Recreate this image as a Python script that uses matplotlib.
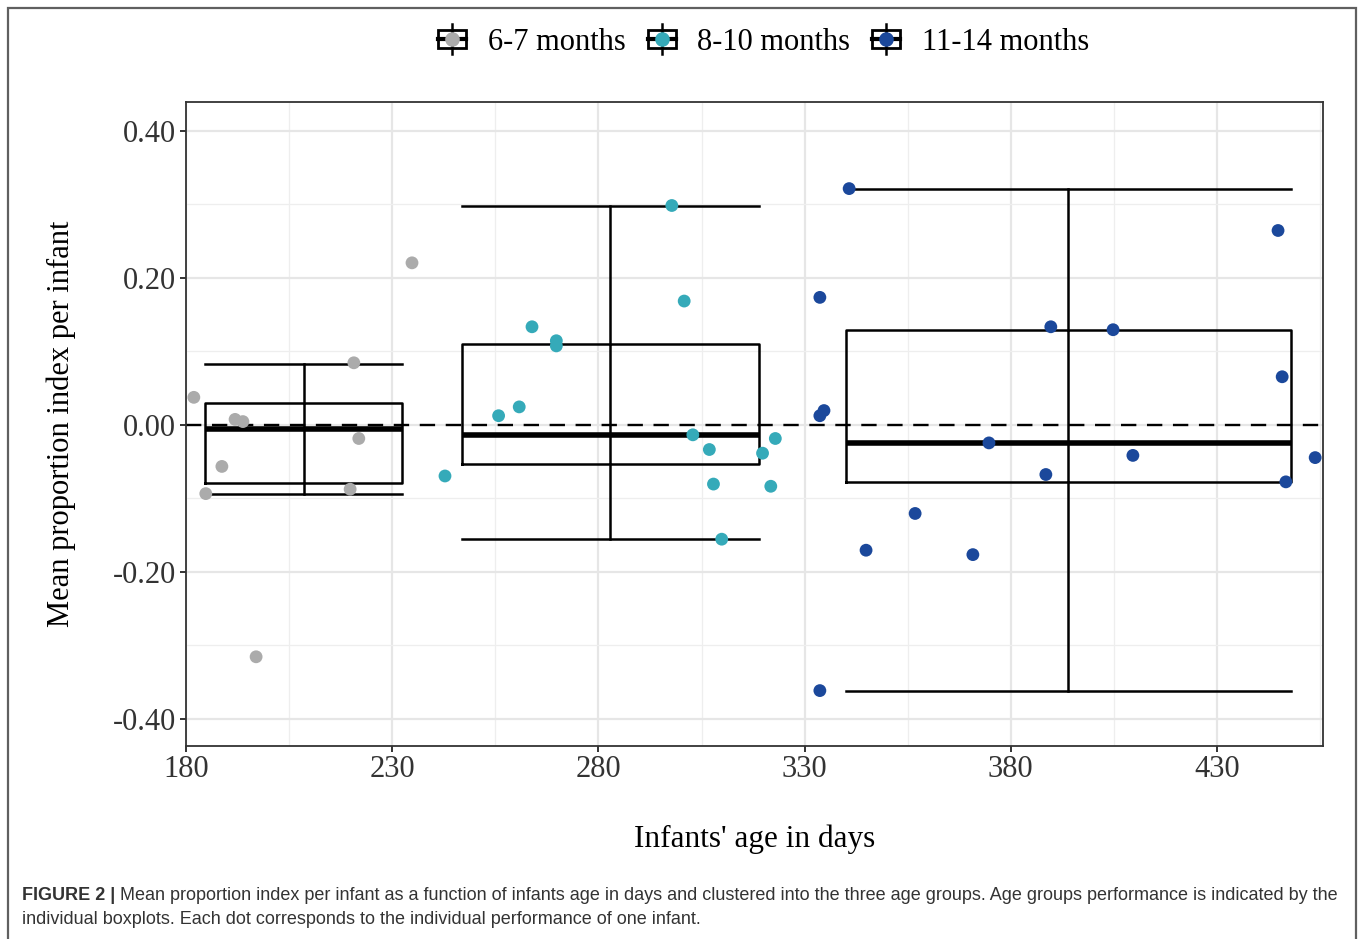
import matplotlib
matplotlib.use("Agg")
import matplotlib.pyplot as plt
import matplotlib.patches as patches
from matplotlib.lines import Line2D
from matplotlib.legend_handler import HandlerBase

# data
grp_names = ["6-7 months", "8-10 months", "11-14 months"]
grp_colors = ["#ABABAB", "#35AAB9", "#1B489B"]

days_67 = [181.9, 184.8, 188.7, 191.9, 193.8, 197.0, 219.8, 220.7, 221.9, 234.8]
vals_67 = [0.037, -0.094, -0.057, 0.007, 0.004, -0.316, -0.088, 0.084, -0.019, 0.220]

days_810 = [242.8, 255.8, 260.8, 263.9, 269.8, 269.8, 300.8, 297.8, 302.9, 306.9,
            307.9, 309.9, 319.8, 322.9, 321.8]
vals_810 = [-0.070, 0.012, 0.024, 0.133, 0.114, 0.107, 0.168, 0.298, -0.014, -0.034,
            -0.081, -0.156, -0.039, -0.019, -0.084]

days_1114 = [340.8, 333.7, 444.8, 389.7, 404.8, 445.8, 334.7, 333.7, 374.7, 409.6,
             453.8, 388.5, 446.7, 356.8, 344.9, 370.8, 333.7]
vals_1114 = [0.321, 0.173, 0.264, 0.133, 0.129, 0.065, 0.019, 0.012, -0.025, -0.042,
             -0.045, -0.068, -0.078, -0.121, -0.171, -0.177, -0.362]

# box summary per group
box_center = [208.5, 282.9, 393.9]
box_width = [47.8, 72.0, 107.9]
box_q1 = [-0.080, -0.054, -0.078]
box_med = [-0.006, -0.014, -0.025]
box_q3 = [0.029, 0.110, 0.129]
box_lo = [-0.094, -0.156, -0.362]
box_hi = [0.083, 0.298, 0.321]

serif = "Liberation Serif"
plt.rcParams["font.family"] = serif

fig = plt.figure(figsize=(13.58, 9.39), dpi=100)
W, H = 1358, 939
ax = fig.add_axes([186 / W, 1 - 745.5 / H, (1323 - 186) / W, (745.5 - 101.5) / H])

# outer frame
fig.add_artist(patches.Rectangle((8 / W, -0.01), (1356 - 8) / W, (1 - 8 / H) + 0.01,
                                 transform=fig.transFigure, fill=False,
                                 edgecolor="#606060", linewidth=1.6))

ax.set_xlim(180, 455.7)
ax.set_ylim(-0.4367, 0.4395)
ax.set_xticks([180, 230, 280, 330, 380, 430])
ax.set_xticks([205, 255, 305, 355, 405, 455], minor=True)
ax.set_yticks([-0.4, -0.2, 0.0, 0.2, 0.4])
ax.set_yticks([-0.3, -0.1, 0.1, 0.3], minor=True)
ax.set_yticklabels(["-0.40", "-0.20", "0.00", "0.20", "0.40"])
ax.grid(True, which="major", color="#E6E6E6", linewidth=1.6)
ax.grid(True, which="minor", color="#EEEEEE", linewidth=0.9)
ax.set_axisbelow(True)
ax.tick_params(which="major", length=4, width=1.4, color="#333333",
               labelsize=22, labelcolor="#333333", pad=3)
ax.tick_params(which="minor", length=0)
for s in ax.spines.values():
    s.set_color("#333333")
    s.set_linewidth(1.3)

ax.axhline(0, color="black", linestyle=(0, (6.5, 4.5)), linewidth=1.7, zorder=2)

stats = []
for i in range(3):
    stats.append(dict(med=box_med[i], q1=box_q1[i], q3=box_q3[i],
                      whislo=box_lo[i], whishi=box_hi[i], fliers=[]))
ax.bxp(stats, positions=box_center, widths=box_width, capwidths=box_width,
       showfliers=False, manage_ticks=False,
       boxprops=dict(color="black", linewidth=1.8),
       medianprops=dict(color="black", linewidth=4.0, solid_capstyle="butt"),
       whiskerprops=dict(color="black", linewidth=1.8),
       capprops=dict(color="black", linewidth=1.8))
ax.vlines(box_center, box_q1, box_q3, color="black", linewidth=1.8, zorder=3)

for d, v, c in [(days_67, vals_67, grp_colors[0]),
                (days_810, vals_810, grp_colors[1]),
                (days_1114, vals_1114, grp_colors[2])]:
    ax.scatter(d, v, s=85, color=c, edgecolors="none", zorder=5, clip_on=False)

ax.set_xlabel("Infants' age in days", fontsize=22.5, labelpad=29)
ax.set_ylabel("Mean proportion index per infant", fontsize=22, labelpad=27)


class BoxHandler(HandlerBase):
    def create_artists(self, legend, orig_handle, xdescent, ydescent, width, height,
                       fontsize, trans):
        c = orig_handle.get_color()
        cx = width / 2 - xdescent
        cy = height / 2 - ydescent
        bw, bh = width * 0.8, height * 0.68
        rect = patches.Rectangle((cx - bw / 2, cy - bh / 2), bw, bh, fill=False,
                                 edgecolor="black", linewidth=2.0, transform=trans)
        vl = Line2D([cx, cx], [cy - height * 0.55, cy + height * 0.55], color="black",
                    linewidth=1.8, transform=trans)
        hl = Line2D([cx - bw / 2, cx + bw / 2], [cy, cy], color="black",
                    linewidth=3.0, transform=trans)
        dot = Line2D([cx], [cy], marker="o", markersize=9.5, color=c,
                     linestyle="none", transform=trans)
        return [rect, vl, hl, dot]


handles = [Line2D([], [], color=c) for c in grp_colors]
fig.legend(handles, grp_names, handler_map={Line2D: BoxHandler()},
           loc="center", bbox_to_anchor=(762 / W, 1 - 41 / H), ncol=3,
           frameon=False, fontsize=22, handlelength=1.15, handleheight=1.0,
           handletextpad=0.6, columnspacing=0.6)

# caption
cap_kw = dict(fontsize=12.95, color="#333333", family="Liberation Sans")
t1 = fig.text(22 / W, 1 - 895 / H, "FIGURE 2 | ", fontweight="bold", va="center", **cap_kw)
ax.annotate("Mean proportion index per infant as a function of infants age in days and "
            "clustered into the three age groups. Age groups performance is indicated by the",
            xy=(1, 0.5), xycoords=t1, va="center", ha="left", annotation_clip=False, **cap_kw)
fig.text(22 / W, 1 - 920 / H, "individual boxplots. Each dot corresponds to the individual "
         "performance of one infant.", va="center", **cap_kw)

fig.savefig("out.png", dpi=100)
